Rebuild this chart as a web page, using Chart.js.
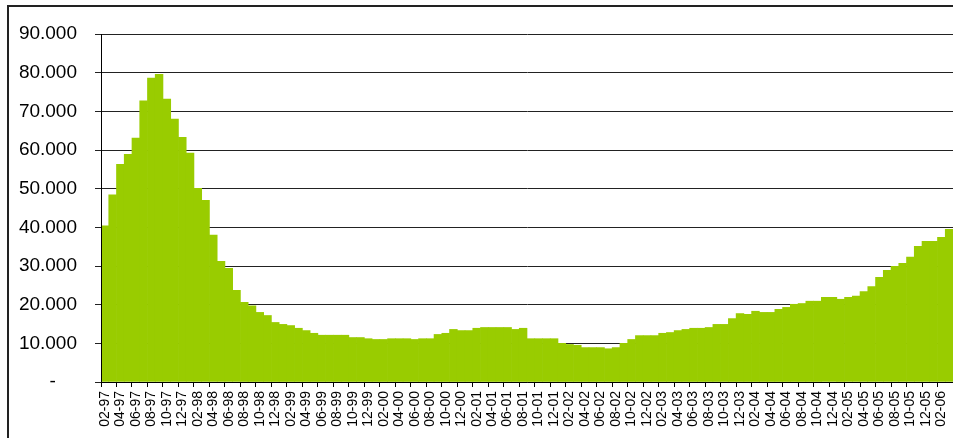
<!DOCTYPE html>
<html><head><meta charset="utf-8">
<script src="https://cdn.jsdelivr.net/npm/chart.js@4.4.1/dist/chart.umd.min.js"></script>
<style>
html,body{margin:0;padding:0;background:#fff;}
#wrap{position:relative;width:953px;height:438px;overflow:hidden;}
#frame{position:absolute;left:7px;top:5px;width:1000px;height:500px;border-top:2px solid #222;border-left:2px solid #222;pointer-events:none;}
canvas{position:absolute;left:0;top:0;}
</style></head><body>
<div id="wrap"><canvas id="c" width="953" height="438"></canvas><div id="frame"></div></div>
<script>
const months = [
 '02-97','03-97','04-97','05-97','06-97','07-97','08-97','09-97','10-97','11-97','12-97',
 '01-98','02-98','03-98','04-98','05-98','06-98','07-98','08-98','09-98','10-98','11-98','12-98',
 '01-99','02-99','03-99','04-99','05-99','06-99','07-99','08-99','09-99','10-99','11-99','12-99',
 '01-00','02-00','03-00','04-00','05-00','06-00','07-00','08-00','09-00','10-00','11-00','12-00',
 '01-01','02-01','03-01','04-01','05-01','06-01','07-01','08-01','09-01','10-01','11-01','12-01',
 '01-02','02-02','03-02','04-02','05-02','06-02','07-02','08-02','09-02','10-02','11-02','12-02',
 '01-03','02-03','03-03','04-03','05-03','06-03','07-03','08-03','09-03','10-03','11-03','12-03',
 '01-04','02-04','03-04','04-04','05-04','06-04','07-04','08-04','09-04','10-04','11-04','12-04',
 '01-05','02-05','03-05','04-05','05-05','06-05','07-05','08-05','09-05','10-05','11-05','12-05',
 '01-06','02-06','03-06'
];
const values = [
 40400,48400,56300,58900,63100,72700,78600,79600,73200,68000,63300,
 59200,50100,47000,38000,31200,29400,23700,20600,19700,18000,17200,15400,
 14900,14600,13900,13300,12600,12100,12100,12100,12100,11500,11500,11200,
 11000,11000,11200,11200,11200,11000,11200,11200,12300,12600,13600,13300,
 13300,13900,14100,14100,14100,14100,13600,13900,11200,11200,11200,11200,
 10000,9700,9500,8900,8900,8900,8600,8900,10000,11000,12000,12000,
 12000,12600,12800,13300,13600,13900,13900,14100,14900,14900,16400,17700,
 17500,18300,18000,18000,18800,19300,20100,20300,20900,20900,21900,21900,
 21400,21900,22200,23400,24700,27100,28900,29900,30700,32300,35100,36400,
 36400,37400,39500
];
const yMin = 0, yMax = 90000, yStep = 10000;
const zeroLabel = '-    ';

function fmt(v){
  if (v === 0) return zeroLabel;
  const s = String(Math.round(v));
  return s.replace(/\B(?=(\d{3})+(?!\d))/g, '.');
}

new Chart(document.getElementById('c').getContext('2d'), {
  type: 'bar',
  data: {
    labels: months,
    datasets: [{
      data: values,
      backgroundColor: '#99CC00',
      borderWidth: 0,
      barPercentage: 1,
      categoryPercentage: 1
    }]
  },
  options: {
    responsive: false,
    animation: false,
    devicePixelRatio: 1,
    plugins: { legend: { display: false }, tooltip: { enabled: false } },
    layout: { padding: { top: 34, right: 0, left: 0, bottom: 0 } },
    scales: {
      x: {
        offset: true,
        grid: {
          display: true, drawOnChartArea: false, drawTicks: true, tickLength: 5,
          color: c => (c.index % 2 === 0 ? '#000' : 'rgba(0,0,0,0)'), lineWidth: 1
        },
        border: { display: true, color: '#000', width: 1, z: 1 },
        ticks: {
          autoSkip: false, maxRotation: 90, minRotation: 90, padding: 4,
          font: { family: 'Liberation Sans, Arial, sans-serif', size: 14 }, color: '#000',
          callback: (v, i) => (i % 2 === 0 ? months[i] : '')
        },
        afterFit: s => { s.height = 56; s.paddingLeft = 0; s.paddingRight = 0; }
      },
      y: {
        min: yMin, max: yMax,
        ticks: {
          stepSize: yStep, padding: 18, color: '#000',
          font: { family: 'Liberation Sans, Arial, sans-serif', size: 19 },
          callback: v => fmt(v)
        },
        grid: { color: '#222', lineWidth: 1, drawTicks: true, tickLength: 6 },
        border: { display: true, color: '#000', width: 1, z: 1 },
        afterFit: s => { s.width = 101; s.paddingTop = 0; s.paddingBottom = 0; }
      }
    }
  }
});
</script>
</body></html>
